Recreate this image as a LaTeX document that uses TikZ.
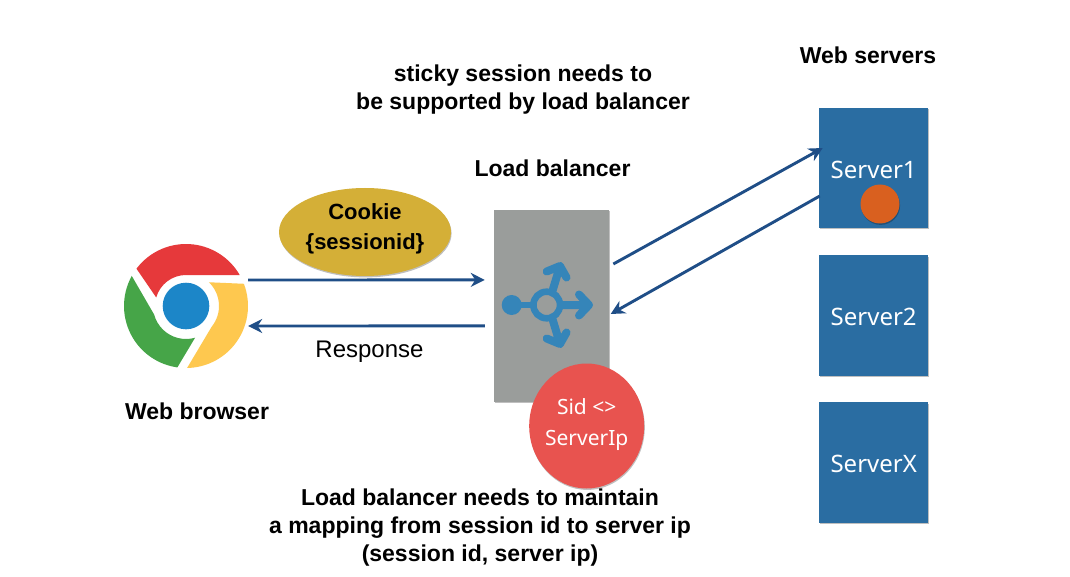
\documentclass[tikz,border=0pt]{standalone}
\usepackage{fontspec}
\setmainfont{Liberation Sans}
\newfontfamily\boxfont{Noto Sans}
\usetikzlibrary{arrows.meta,shadows,calc,shapes.geometric}
\definecolor{flowblue}{HTML}{1F4E87}
\definecolor{lbgray}{HTML}{9A9D9B}
\definecolor{iconblue}{HTML}{3585B9}
\definecolor{srvblue}{HTML}{2A6DA2}
\definecolor{dotorange}{HTML}{D9601F}
\definecolor{cookiegold}{HTML}{D4AF37}
\definecolor{sidred}{HTML}{E8534F}
\definecolor{chred}{HTML}{E6393B}
\definecolor{chyellow}{HTML}{FEC84F}
\definecolor{chgreen}{HTML}{46A548}
\definecolor{chblue}{HTML}{1C86C8}
\tikzset{
  softshadow/.style={drop shadow={shadow xshift=0.6pt,shadow yshift=-1.4pt,opacity=0.25,fill=black}},
  srvbox/.style={rectangle,draw=none,fill=srvblue,minimum width=109.5pt,minimum height=120.5pt,inner sep=0pt,softshadow},
  srvlabel/.style={text=white,inner sep=0pt,font=\boxfont\fontsize{24}{28}\selectfont},
  title/.style={font=\bfseries\fontsize{23}{28}\selectfont,align=center,inner sep=0pt,text=black},
  flow/.style={draw=flowblue,line width=2.9pt,-{Stealth[length=14pt,width=14pt]}},
  icon/.style={draw=iconblue,line width=8pt,line cap=round,line join=round},
  iconring/.style={draw=iconblue,line width=6.6pt},
}
\begin{document}
\begin{tikzpicture}[x=1pt,y=1pt]
\useasboundingbox (0,0) rectangle (1070,-577);
\fill[white] (0,0) rectangle (1070,-577);
% browser logo
\node[circle,minimum size=124pt,inner sep=0pt] (browser) at (186,-306) {};
\begin{scope}[shift={(186,-306)}]
\fill[chred] (143:62) arc[start angle=143,end angle=30,radius=62] -- (90:31) arc[start angle=90,end angle=164,radius=31] -- cycle;
\fill[chyellow] (21:62) arc[start angle=21,end angle=-89,radius=62] -- (-39:33) arc[start angle=-39,end angle=46,radius=33] -- cycle;
\fill[chgreen] (151:62) arc[start angle=151,end angle=262,radius=62] -- (286:33) arc[start angle=286,end angle=195,radius=33] -- cycle;
\fill[chblue] (0,0) circle[radius=23.3];
\end{scope}
% cookie
\node[ellipse,fill=cookiegold,minimum width=172pt,minimum height=88pt,inner sep=0pt,softshadow] (cookie) at (365,-232) {};
\node[inner sep=0pt,align=center,font=\bfseries\fontsize{22}{30}\selectfont] (cookietext) at (365,-228.5) {Cookie\\\{sessionid\}};
% load balancer
\node[rectangle,fill=lbgray,minimum width=115.5pt,minimum height=191.7pt,inner sep=0pt,softshadow] (lb) at (551.7,-305.9) {};
% icon
\coordinate (hub) at (546.7,-305);
\fill[iconblue] (511.7,-305) circle[radius=10];
\draw[iconring] (511.7,-305) -- (533.4,-305);
\draw[iconring] (hub) circle[radius=13.3];
\draw[icon] (561,-305) -- (589,-305) (579,-294.5) -- (589,-305) -- (579,-315.5);
\draw[icon] (552,-292.5) -- (560,-266) (546.7,-271.5) -- (560,-266) -- (566.5,-277.5);
\draw[icon] (552,-317.5) -- (560,-344) (546.7,-338.5) -- (560,-344) -- (566.5,-332.5);
% mapping
\node[ellipse,fill=sidred,minimum width=115pt,minimum height=125pt,inner sep=0pt,softshadow] (sid) at (586.7,-426) {};
\node[inner sep=0pt,align=center,text=white,font=\boxfont\fontsize{21}{31}\selectfont] (sidtext) at (586.7,-425) {Sid <>\\ServerIp};
% servers
\node[srvbox] (s1) at (873.7,-167.8) {};
\node[srvbox] (s2) at (873.7,-315.5) {};
\node[srvbox] (sx) at (873.7,-462.5) {};
\node[srvlabel] (s1t) at (873.7,-170) {Server1};
\node[srvlabel] (s2t) at (873.7,-317) {Server2};
\node[srvlabel] (sxt) at (873.7,-464) {ServerX};
\node[circle,fill=dotorange,minimum size=39pt,inner sep=0pt,softshadow] (dot) at (880,-204) {};
% texts
\node[title] (t1) at (868,-55) {Web servers};
\node[title] (t2) at (523,-90) {sticky session needs to\\be supported by load balancer};
\node[title] (t3) at (552.5,-168) {Load balancer};
\node[title] (t4) at (197,-411) {Web browser};
\node[title] (t5) at (480,-528) {Load balancer needs to maintain\\a mapping from session id to server ip\\(session id, server ip)};
\node[inner sep=0pt,font=\fontsize{24}{26}\selectfont] (resp) at (369.5,-351.5) {Response};
% connectors
\draw[flow] ([yshift=26pt]browser.east) -- ([shift={(-9pt,26pt)}]lb.west);
\draw[flow] ([shift={(-9pt,-20pt)}]lb.west) -- ([yshift=-20pt]browser.east);
\draw[flow] ([shift={(3.7pt,41.9pt)}]lb.east) -- ([shift={(4pt,19.8pt)}]s1.west);
\draw[flow] ([shift={(1pt,-28.2pt)}]s1.west) -- ([shift={(1pt,-8.1pt)}]lb.east);
\end{tikzpicture}
\end{document}
